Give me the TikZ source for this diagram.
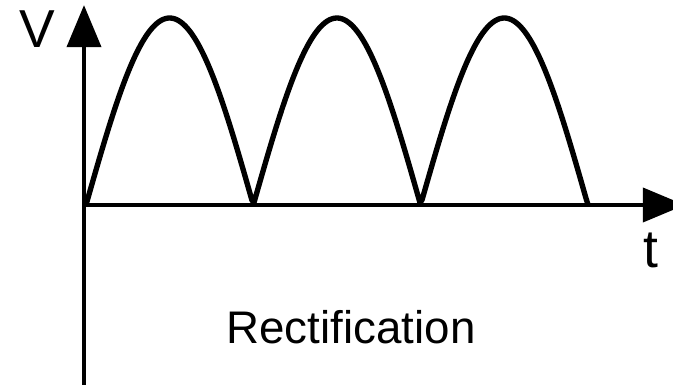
\documentclass[tikz,border=0pt]{standalone}
\usepackage{fontspec}
\setmainfont{Liberation Sans}
\usetikzlibrary{arrows.meta}
\begin{document}
\begin{tikzpicture}[
        x=0.025cm, y=-0.025cm,
        axis/.style={line width=3.5pt, -{Triangle[length=30pt, width=24pt]}},
        wave/.style={line width=3.8pt, line join=round},
        axislabel/.style={anchor=base, inner sep=0pt, font=\fontsize{38}{44}\selectfont},
        caption/.style={anchor=base, inner sep=0pt, font=\fontsize{32.5}{38}\selectfont}
    ]
        \useasboundingbox (0,0) rectangle (673,385);

        % Axes
        \coordinate (origin) at (84,205);
        \coordinate (vbottom) at (84,385);
        \coordinate (vtop) at (84,5);
        \coordinate (tend) at (685,205);
        \draw[axis] (vbottom) -- (vtop);
        \draw[axis] (origin) -- (tend);

        % Rectified wave
        \draw[wave] plot[domain=86:588, samples=240] (\x, {205-187*abs(sin((\x-86)/167.3*180))});

        % Labels
        \node[axislabel] (vlabel) at (37,48) {V};
        \node[axislabel] (tlabel) at (651,268) {t};
        \node[caption] (title) at (351,344) {Rectification};
    \end{tikzpicture}
\end{document}
